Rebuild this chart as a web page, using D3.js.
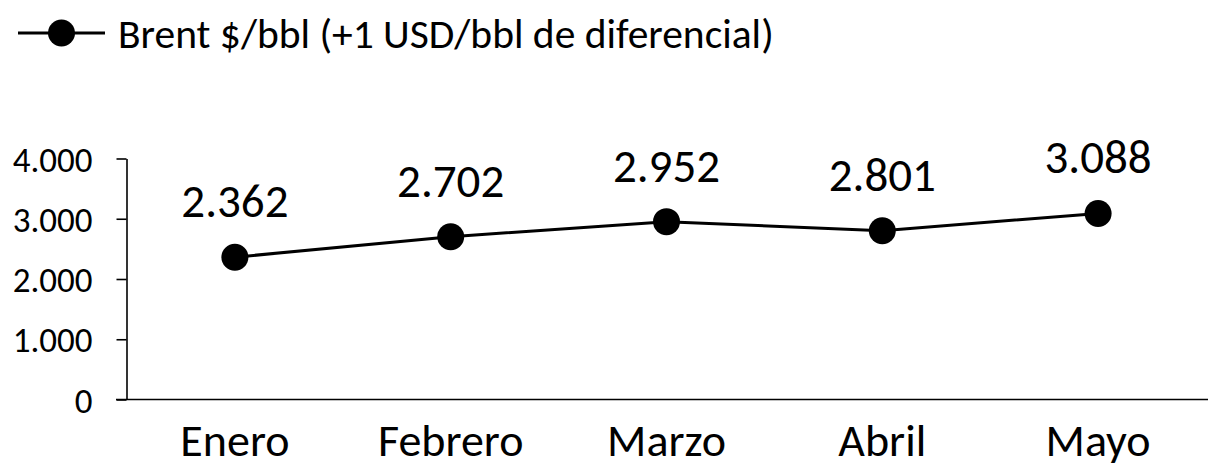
<!DOCTYPE html>
<meta charset="utf-8">
<html>
<style>
body { margin: 0; background: #fff; }
svg { display: block; background: #fff; font-family: Carlito, Calibri, Lato, sans-serif; }
.axis path, .axis line { stroke: #000; stroke-width: 1.6px; }
.axis text { fill: #000; }
</style>
<body>
<script src="https://cdnjs.cloudflare.com/ajax/libs/d3/7.8.5/d3.min.js"></script>
<script>
	var months = ["Enero", "Febrero", "Marzo", "Abril", "Mayo"];
	var brent = [2362, 2702, 2952, 2801, 3088];
	var yTicks = [0, 1000, 2000, 3000, 4000];
	var seriesName = "Brent $/bbl (+1 USD/bbl de diferencial)";

	var width = 1208;
	var height = 468;
	var fontStack = "Carlito, Calibri, Lato, sans-serif";

	var locale = d3.formatLocale({decimal: ",", thousands: ".", grouping: [3], currency: ["$", ""]});
	var fmt = locale.format(",d");

	var svg = d3.select("body")
				.append("svg")
				.attr("width", width)
				.attr("height", height);

	var x = d3.scalePoint()
		.domain(months)
		.range([127, 1206])
		.padding(0.5);

	var y = d3.scaleLinear()
		.domain([0, 4000])
		.range([399.5, 158.5]);

	// y axis
	var yAxis = svg.append("g")
		.attr("class", "axis")
		.attr("transform", "translate(126.5,0)")
		.call(d3.axisLeft(y).tickValues(yTicks).tickSize(10).tickSizeOuter(0).tickPadding(24).tickFormat(fmt))
		.attr("font-family", fontStack)
		.attr("font-size", 35);
	yAxis.selectAll("text")
		.attr("dy", "0.36em");

	// x axis line (no ticks)
	svg.append("line")
		.attr("x1", 116)
		.attr("x2", width)
		.attr("y1", y(0))
		.attr("y2", y(0))
		.attr("stroke", "#000")
		.attr("stroke-width", 1.6);

	svg.append("g")
		.selectAll("text")
		.data(months)
		.enter()
		.append("text")
		.attr("x", d => x(d))
		.attr("y", 456)
		.attr("text-anchor", "middle")
		.style("font-size", "46px")
		.text(d => d);

	var line = d3.line()
		.x((d, i) => x(months[i]))
		.y(d => y(d));

	svg.append("path")
		.datum(brent)
		.attr("d", line)
		.attr("fill", "none")
		.attr("stroke", "#000")
		.attr("stroke-width", 3);

	svg.append("g")
		.selectAll("circle")
		.data(brent)
		.enter()
		.append("circle")
		.attr("cx", (d, i) => x(months[i]))
		.attr("cy", d => y(d))
		.attr("r", 13.5)
		.attr("fill", "#000");

	svg.append("g")
		.selectAll("text")
		.data(brent)
		.enter()
		.append("text")
		.attr("x", (d, i) => x(months[i]))
		.attr("y", d => y(d) - 40)
		.attr("text-anchor", "middle")
		.style("font-size", "47px")
		.text(d => fmt(d));

	// legend
	var legend = svg.append("g");
	legend.append("line")
		.attr("x1", 18).attr("x2", 105)
		.attr("y1", 33).attr("y2", 33)
		.attr("stroke", "#000").attr("stroke-width", 3);
	legend.append("circle")
		.attr("cx", 61.5).attr("cy", 33).attr("r", 13.5)
		.attr("fill", "#000");
	legend.append("text")
		.attr("x", 118)
		.attr("y", 48)
		.style("font-size", "41.5px")
		.text(seriesName);
</script>
</body>
</html>
